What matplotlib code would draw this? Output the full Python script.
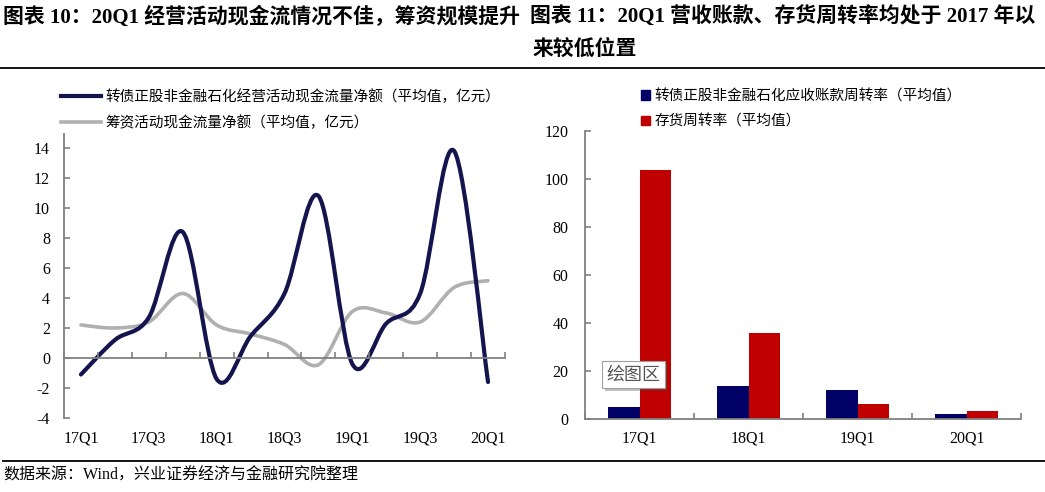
import numpy as np
import matplotlib.pyplot as plt
from matplotlib.path import Path
from matplotlib.patches import PathPatch, Patch
from matplotlib.lines import Line2D
import matplotlib.patheffects as pe

plt.rcParams['font.family'] = ['Liberation Serif', 'Noto Sans CJK SC']

# left chart data
quarters = ['17Q1', '17Q2', '17Q3', '17Q4', '18Q1', '18Q2', '18Q3', '18Q4',
            '19Q1', '19Q2', '19Q3', '19Q4', '20Q1']
op_cash = [-1.1, 1.2, 2.7, 8.4, -1.4, 1.45, 4.3, 10.8, -0.4, 2.3, 4.3, 13.8, -1.6]
fin_cash = [2.2, 2.0, 2.4, 4.3, 2.2, 1.6, 0.9, -0.45, 3.1, 3.0, 2.4, 4.7, 5.15]

# right chart data
years = ['17Q1', '18Q1', '19Q1', '20Q1']
recv_turn = [5.0, 13.9, 12.1, 2.2]
inv_turn = [103.8, 35.8, 6.2, 3.3]

navy = '#14144e'
grey = '#b0b0b0'
bar_blue = '#000066'
bar_red = '#c00000'
axis_grey = '#808080'
cjk = ['Noto Sans CJK SC', 'DejaVu Sans']


def smooth_path(xs, ys):
    # Excel-like smoothed line as cubic bezier segments
    p = np.column_stack([xs, ys]).astype(float)
    n = len(p)
    verts = [p[0]]
    codes = [Path.MOVETO]
    for i in range(n - 1):
        p0 = p[i - 1] if i > 0 else p[i]
        p1, p2 = p[i], p[i + 1]
        p3 = p[i + 2] if i + 2 < n else p[i + 1]
        verts += [p1 + (p2 - p0) / 6, p2 - (p3 - p1) / 6, p2]
        codes += [Path.CURVE4] * 3
    return Path(verts, codes)


fig = plt.figure(figsize=(10.45, 4.92), dpi=100)

# titles
fig.text(0.003, 1 - 17 / 492, '图表 10：20Q1 经营活动现金流情况不佳，筹资规模提升',
         fontsize=15, fontweight='bold', va='center', ha='left')
fig.text(0.507, 1 - 17 / 492, '图表 11：20Q1 营收账款、存货周转率均处于 2017 年以',
         fontsize=15, fontweight='bold', va='center', ha='left')
fig.text(0.510, 1 - 50 / 492, '来较低位置',
         fontsize=15, fontweight='bold', va='center', ha='left')
fig.add_artist(Line2D([0.0, 1.0], [1 - 68 / 492] * 2, color='black', lw=1.3,
                      transform=fig.transFigure))
fig.add_artist(Line2D([0.003, 1.0], [1 - 461 / 492] * 2, color='black', lw=1.3,
                      transform=fig.transFigure))
fig.text(0.003, 1 - 476 / 492, '数据来源：Wind，兴业证券经济与金融研究院整理',
         fontsize=11.5, va='center', ha='left', family=['Liberation Serif', 'Noto Sans CJK SC'])

# ---- left chart
ax1 = fig.add_axes([64 / 1045, 1 - 418 / 492, (505 - 64) / 1045, (418 - 134) / 492])
x = np.arange(len(quarters))
ax1.add_patch(PathPatch(smooth_path(x, fin_cash), fill=False, ec=grey, lw=2.6,
                        capstyle='round', joinstyle='round'))
ax1.add_patch(PathPatch(smooth_path(x, op_cash), fill=False, ec=navy, lw=3.0,
                        capstyle='round', joinstyle='round'))
ax1.set_xlim(-0.5, len(quarters) - 0.5)
ax1.set_ylim(-4, 14.93)
ax1.set_yticks(np.arange(-4, 15, 2))
ax1.set_yticklabels([str(v) for v in range(-4, 15, 2)])
ax1.spines['top'].set_visible(False)
ax1.spines['right'].set_visible(False)
ax1.spines['bottom'].set_position(('data', 0))
for s in ['left', 'bottom']:
    ax1.spines[s].set_color(axis_grey)
    ax1.spines[s].set_linewidth(1.3)
ax1.set_xticks(np.arange(-0.5, len(quarters), 1))
ax1.set_xticklabels([])
ax1.set_xticks(x[::2], minor=True)
ax1.set_xticklabels(quarters[::2], minor=True)
ax1.tick_params(axis='x', which='major', direction='in', length=4, color=axis_grey, width=1.2)
ax1.tick_params(axis='x', which='minor', length=0, pad=52, labelsize=11.5)
ax1.tick_params(axis='y', direction='in', length=4, color=axis_grey, width=1.2,
                pad=10, labelsize=11.5)

h1 = [Line2D([], [], color=navy, lw=3.0), Line2D([], [], color=grey, lw=2.6)]
fig.legend(h1, ['转债正股非金融石化经营活动现金流量净额（平均值，亿元）',
                '筹资活动现金流量净额（平均值，亿元）'],
           loc='upper left', bbox_to_anchor=(61 / 1045, 1 - 89 / 492),
           frameon=False, borderpad=0, borderaxespad=0, handlelength=2.75,
           handletextpad=0.3, labelspacing=0.78, prop={'family': cjk, 'size': 10.5})

# ---- right chart
ax2 = fig.add_axes([585 / 1045, 1 - 419 / 492, (1021 - 585) / 1045, (419 - 131) / 492])
xb = np.arange(len(years))
w = 0.29
ax2.bar(xb - w / 2, recv_turn, w, color=bar_blue)
ax2.bar(xb + w / 2, inv_turn, w, color=bar_red)
ax2.set_xlim(-0.5, len(years) - 0.5)
ax2.set_ylim(0, 120)
ax2.set_yticks(np.arange(0, 121, 20))
ax2.spines['top'].set_visible(False)
ax2.spines['right'].set_visible(False)
for s in ['left', 'bottom']:
    ax2.spines[s].set_color(axis_grey)
    ax2.spines[s].set_linewidth(1.3)
ax2.set_xticks(np.arange(-0.5, len(years), 1))
ax2.set_xticklabels([])
ax2.set_xticks(xb, minor=True)
ax2.set_xticklabels(years, minor=True)
ax2.tick_params(axis='x', which='major', direction='in', length=4, color=axis_grey, width=1.2)
ax2.tick_params(axis='x', which='minor', length=0, pad=8, labelsize=11.5)
ax2.tick_params(axis='y', direction='in', length=4, color=axis_grey, width=1.2,
                pad=12, labelsize=11.5)

h2 = [Patch(color=bar_blue), Patch(color=bar_red)]
fig.legend(h2, ['转债正股非金融石化应收账款周转率（平均值）', '存货周转率（平均值）'],
           loc='upper left', bbox_to_anchor=(641 / 1045, 1 - 89 / 492),
           frameon=False, borderpad=0, borderaxespad=0, handlelength=0.6,
           handleheight=0.6, handletextpad=0.3, labelspacing=0.78,
           prop={'family': cjk, 'size': 10.5})

# excel tooltip left in the screenshot
tip = ax2.text(0.05, 0.153, '绘图区', transform=ax2.transAxes, ha='left', va='center',
               fontsize=13, color='#555555', family=cjk,
               bbox=dict(boxstyle='square,pad=0.25', fc='white', ec='#a0a0a0', lw=0.8))
tip.get_bbox_patch().set_path_effects([pe.withSimplePatchShadow(offset=(2, -2), alpha=0.35)])

plt.savefig('out.png', dpi=100)
